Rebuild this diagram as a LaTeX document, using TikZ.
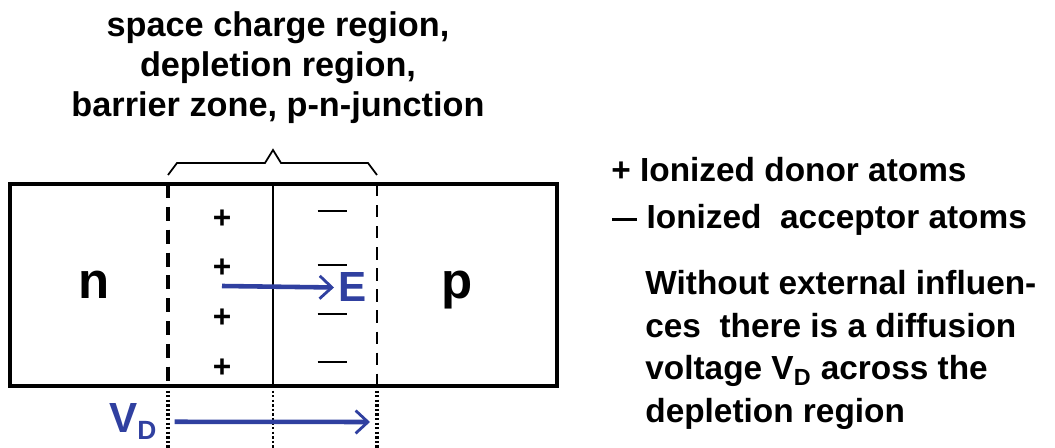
\documentclass[tikz,border=0pt]{standalone}
\usepackage{fontspec}
\setmainfont{Liberation Sans}
\usetikzlibrary{arrows.meta,positioning}
\definecolor{fieldblue}{RGB}{48,64,160}

\begin{document}
\begin{tikzpicture}[x=0.02cm,y=-0.02cm,>={Straight Barb[length=7pt,width=13pt,line width=1.6pt]},
txt/.style={font=\fontsize{19}{24.3}\selectfont\bfseries,inner sep=0pt},
big/.style={font=\fontsize{29}{32}\selectfont\bfseries,inner sep=0pt},
lbl/.style={font=\fontsize{24}{26}\selectfont\bfseries,inner sep=0pt,fieldblue},
sign/.style={font=\fontsize{18}{20}\selectfont\bfseries,inner sep=0pt},
blu/.style={fieldblue,line width=2.6pt}]
\useasboundingbox (0,0) rectangle (1055,448);
% crystal
\draw[line width=2.2pt] (10,184) rectangle (557,386);
\draw[line width=1.3pt] (273,184)--(273,386);
\draw[line width=1.8pt,dash pattern=on 8pt off 5pt] (168,184)--(168,386);
\draw[line width=1.4pt,dash pattern=on 7pt off 5pt] (377,184)--(377,386);
\draw[line width=1.8pt,dash pattern=on 1.3pt off 1.3pt] (168,386)--(168,448);
\draw[line width=1.3pt,dash pattern=on 1.3pt off 1.3pt] (273,386)--(273,448);
\draw[line width=1.8pt,dash pattern=on 1.3pt off 1.3pt] (377,386)--(377,448);
% brace
\draw[line width=1pt] (168,175)--(177,163)--(265,163)--(273,150)--(281,163)--(368,163)--(377,175);
\node[txt,align=center,font=\fontsize{19.5}{22.7}\selectfont\bfseries] (title) at (278,68) {space charge region,\\depletion region,\\barrier zone, p-n-junction};
\node[big,anchor=base] (nside) at (94,299) {n};
\node[big,anchor=base] (pside) at (457,299) {p};
% charges
\foreach \y in {219,268,318,368} \node[sign] at (222,\y) {+};
\foreach \y in {211,265,314,362} \node[inner sep=0pt] at (332,\y) {\rule{0.58cm}{1.6pt}};
% field
\coordinate (estart) at (222,286);
\node[lbl,anchor=base west] (efield) at (338,302) {E};
\draw[blu,->] (estart)--([xshift=-4*0.02cm]efield.west);
\node[lbl,anchor=base west] (vd) at (109,433) {V\textsubscript{\fontsize{15}{15}\selectfont D}};
\coordinate (vdend) at (370,422);
\draw[blu,->] ([xshift=17*0.02cm]vd.east)--(vdend);
% legend
\node[txt,anchor=west] (donor) at (611,170) {+ Ionized donor atoms};
\node[txt,anchor=west] (acceptor) at (612,220) {\rule[0.24em]{0.5cm}{1.4pt}\ Ionized\ \ acceptor atoms};
\node[txt,anchor=north west,align=left] (note) at (645,270) {Without external influen-\\ces\ \ there is a diffusion\\voltage V\textsubscript{D} across the\\depletion region};
\end{tikzpicture}
\end{document}
